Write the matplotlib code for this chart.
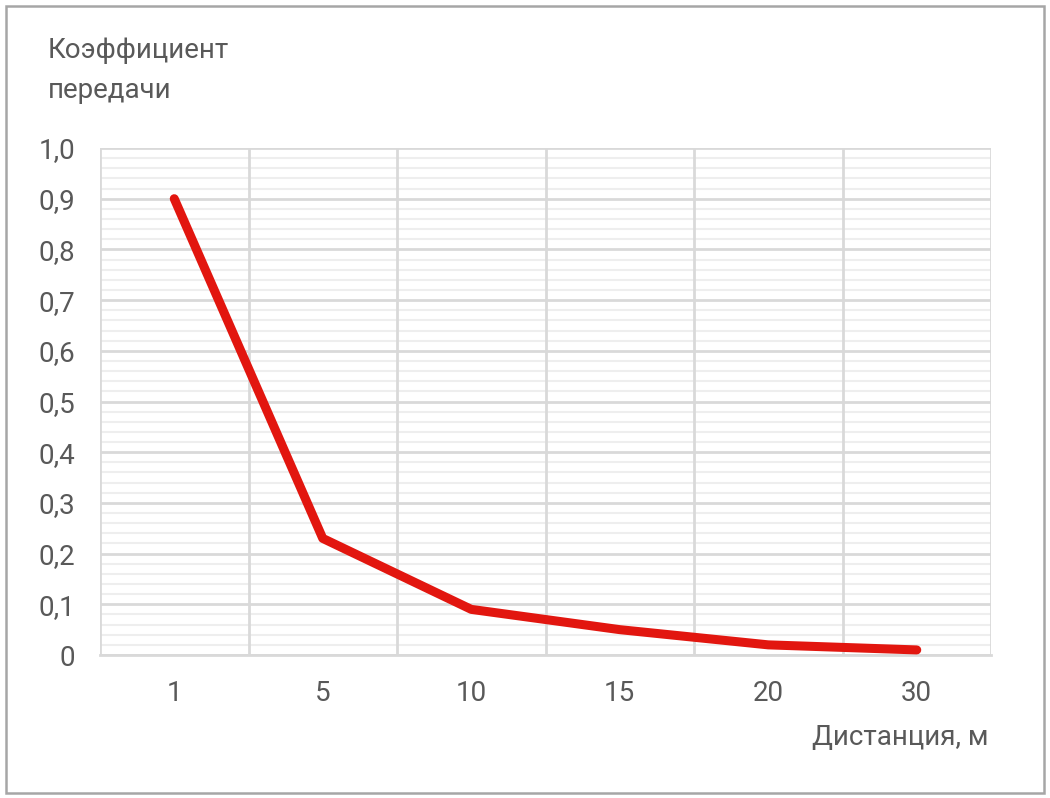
import numpy as np
import matplotlib
matplotlib.use('Agg')
import matplotlib.pyplot as plt
from matplotlib.patches import Rectangle
from matplotlib.ticker import MultipleLocator, FixedLocator

# data
distances = ['1', '5', '10', '15', '20', '30']
coeff = [0.90, 0.23, 0.09, 0.05, 0.02, 0.01]
y_ticks = [0.0, 0.1, 0.2, 0.3, 0.4, 0.5, 0.6, 0.7, 0.8, 0.9, 1.0]
y_labels = ['0', '0,1', '0,2', '0,3', '0,4', '0,5', '0,6', '0,7', '0,8', '0,9', '1,0']

plt.rcParams['font.family'] = ['Roboto', 'DejaVu Sans']

text_col = '#595959'
grid_col = '#d9d9d9'
minor_col = '#eeeeee'

fig = plt.figure(figsize=(10.5, 7.98), dpi=100)
ax = fig.add_axes([100 / 1050, 1 - 655 / 798, 891 / 1050, 507 / 798])

x = np.arange(len(distances))
ax.plot(x, coeff, color='#e2160f', linewidth=6.5, solid_capstyle='round',
        solid_joinstyle='round', zorder=3)

ax.set_xlim(-0.5, len(distances) - 0.5)
ax.set_ylim(0, 1.0)

ax.set_xticks(x)
ax.set_xticklabels(distances)
ax.xaxis.set_minor_locator(FixedLocator(np.arange(-0.5, len(distances), 1.0)))
ax.set_yticks(y_ticks)
ax.set_yticklabels(y_labels)
ax.yaxis.set_minor_locator(MultipleLocator(0.02))

ax.set_axisbelow(True)
ax.grid(which='major', axis='y', color=grid_col, linewidth=2.0)
ax.grid(which='minor', axis='y', color=minor_col, linewidth=1.5)
ax.grid(which='minor', axis='x', color=grid_col, linewidth=2.0)
# vertical grid on top of the horizontal minor lines
ax.yaxis.set_zorder(0.5)
ax.xaxis.set_zorder(0.6)

for sp in ax.spines.values():
    sp.set_visible(False)
ax.spines['bottom'].set_visible(True)
ax.spines['bottom'].set_color(grid_col)
ax.spines['bottom'].set_linewidth(2.0)

ax.tick_params(which='both', length=0)
ax.tick_params(axis='x', labelsize=20, labelcolor=text_col, pad=18)
ax.tick_params(axis='y', labelsize=20, labelcolor=text_col, pad=18)

fig.text(48 / 1050, 1 - 50 / 798, 'Коэффициент', fontsize=20,
         color=text_col, ha='left', va='center')
fig.text(48 / 1050, 1 - 90 / 798, 'передачи', fontsize=20,
         color=text_col, ha='left', va='center')
fig.text(988 / 1050, 1 - 738 / 798, 'Дистанция, м', fontsize=20,
         color=text_col, ha='right', va='center')

fig.patches.append(Rectangle((6 / 1050, 5 / 798), 1038 / 1050, 787 / 798,
                             transform=fig.transFigure, fill=False,
                             edgecolor='#a6a6a6', linewidth=1.8))

fig.savefig('out.png', dpi=100)
